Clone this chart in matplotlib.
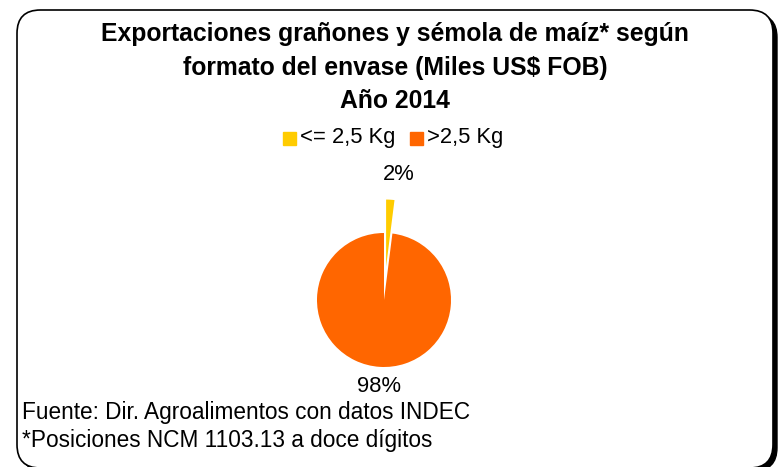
import numpy as np
import matplotlib.pyplot as plt
from matplotlib.patches import FancyBboxPatch

plt.rcParams["font.family"] = ["Liberation Sans", "DejaVu Sans"]

# datos del gráfico
categorias = ["<= 2,5 Kg", ">2,5 Kg"]
participacion = [2, 98]
colores = ["#FFCC00", "#FF6600"]
titulo = ("Exportaciones grañones y sémola de maíz* según\n"
          "formato del envase (Miles US$ FOB)\nAño 2014")
fuente = ["Fuente: Dir. Agroalimentos con datos INDEC",
          "*Posiciones NCM 1103.13 a doce dígitos"]

W, H = 779, 467
fig = plt.figure(figsize=(W / 100, H / 100), dpi=100)

def fx(px):
    return px / W

def fy(py):
    return 1 - py / H

# marco con sombra
sombra = FancyBboxPatch((fx(21), fy(471)), fx(777) - fx(21), fy(14) - fy(471),
                        boxstyle="round,pad=0,rounding_size=0.03",
                        transform=fig.transFigure, facecolor="black",
                        edgecolor="black", lw=1, mutation_aspect=W / H)
marco = FancyBboxPatch((fx(17), fy(468)), fx(773) - fx(17), fy(10) - fy(468),
                       boxstyle="round,pad=0,rounding_size=0.03",
                       transform=fig.transFigure, facecolor="white",
                       edgecolor="black", lw=1.2, mutation_aspect=W / H)
fig.patches.append(sombra)
fig.patches.append(marco)

# título
for i, linea in enumerate(titulo.split("\n")):
    fig.text(fx(395), fy(34 + i * 33.5), linea, ha="center", va="center",
             fontsize=17.8, fontweight="bold")

# leyenda
leg_x = [283, 410]
for x0, cat, col in zip(leg_x, categorias, colores):
    fig.patches.append(plt.Rectangle((fx(x0), fy(145)), fx(13), fy(132) - fy(145),
                                     transform=fig.transFigure, color=col))
    fig.text(fx(x0 + 17), fy(137), cat, ha="left", va="center", fontsize=15.8)

# torta
r_px = 67
half = 160
cx, cy = 384, 300
ax = fig.add_axes([fx(cx - half), fy(cy + half), 2 * half / W, 2 * half / H])
ax.set_zorder(5)
ax.patch.set_visible(False)
lim = half / r_px

explode = [0.5, 0]
wedges, _ = ax.pie(participacion, colors=colores, startangle=90,
                   counterclock=False, explode=explode, radius=1,
                   wedgeprops=dict(linewidth=0))
ax.set_xlim(-lim, lim)
ax.set_ylim(-lim, lim)
ax.axis("off")

dist = [1.88, 1.3]
for w, val, d in zip(wedges, participacion, dist):
    ang = np.deg2rad((w.theta1 + w.theta2) / 2)
    ax.text(d * np.cos(ang) + 0.1 * (val < 50), d * np.sin(ang), f"{val}%",
            ha="center", va="center", fontsize=15.8)

# fuente
for i, linea in enumerate(fuente):
    fig.text(fx(22), fy(413 + i * 27), linea, ha="left", va="center", fontsize=16.3,
             zorder=6)

fig.savefig("out.png", dpi=100)
